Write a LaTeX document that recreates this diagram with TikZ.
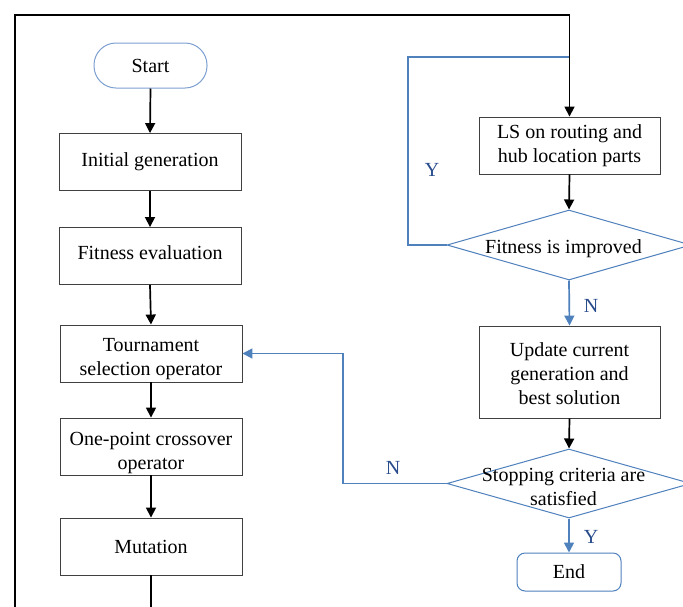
\documentclass[tikz,border=0pt]{standalone}
\usepackage{fontspec}
\setmainfont{Liberation Serif}
\usetikzlibrary{arrows.meta,shapes.geometric}
\definecolor{lineblue}{RGB}{79,129,189}
\definecolor{labelblue}{RGB}{40,75,140}
\definecolor{startblue}{RGB}{125,160,208}
\newcommand{\lowtext}[2][5pt]{\raisebox{-#1}[\height][\depth]{\begin{tabular}{@{}c@{}}#2\end{tabular}}}
\begin{document}
\begin{tikzpicture}[x=1pt,y=-1pt,
  font=\fontsize{20}{24}\selectfont,
  procbox/.style={draw=black!75, line width=0.9pt, minimum width=182pt, minimum height=57pt, align=center, inner sep=2pt},
  termbox/.style={draw=startblue, line width=1pt, align=center},
  decision/.style={diamond, draw=lineblue, line width=1pt, minimum width=244pt, minimum height=70pt, inner sep=0pt},
  flow/.style={line width=1.7pt, -{Triangle[length=10pt,width=10pt]}},
  bflow/.style={line width=1.7pt, draw=lineblue, -{Triangle[length=10pt,width=10pt]}},
  bline/.style={line width=1.7pt, draw=lineblue},
  yn/.style={text=labelblue, inner sep=0pt}]
\useasboundingbox (0,0) rectangle (683,606);
\clip (0,0) rectangle (683,606);
\fill[white] (0,0) rectangle (683,606);

% left column
\node[termbox, minimum width=113pt, minimum height=45pt, rounded corners=22pt] (start) at (150.5,65.5) {Start};
\node[procbox] (init) at (150,162) {Initial generation};
\node[procbox] (fit) at (150,256) {\lowtext[-1pt]{Fitness evaluation}};
\node[procbox] (tour) at (151,353.5) {\lowtext{Tournament\\selection operator}};
\node[procbox] (cross) at (151,446.5) {\lowtext[6pt]{One-point crossover\\operator}};
\node[procbox] (mut) at (151,546.5) {\lowtext[2pt]{Mutation}};

% right column
\node[procbox, minimum width=181pt] (ls) at (569.5,145.5) {\lowtext[0pt]{LS on routing and\\hub location parts}};
\node[decision] (d1) at (569,245) {\makebox[0pt]{\kern-11pt\lowtext[4pt]{Fitness is improved}}};
\node[procbox, minimum width=181pt, minimum height=92pt] (upd) at (569.5,372) {\lowtext[4pt]{Update current\\generation and\\best solution}};
\node[decision, minimum height=69pt] (d2) at (569,483.5) {\makebox[0pt]{\kern-11pt\lowtext[5pt]{Stopping criteria are\\satisfied}}};
\node[termbox, draw=lineblue, minimum width=104pt, minimum height=38pt, rounded corners=8pt] (end) at (569,572) {End};

\coordinate (yjoin) at (569,57);

% blue loops
\draw[bline] (d1.west) -- (408,245) -- (408,57) -- (yjoin);
\node[yn] (ylab1) at (432,170) {Y};
\draw[bflow] (d2.west) -- (343,483.5) -- (343,353.5) -- (tour.east);
\node[yn] (nlab2) at (393,468) {N};
\draw[bflow] (d1.south) -- (upd.north);
\node[yn] (nlab1) at (591,306) {N};
\draw[bflow] (d2.south) -- (end.north);
\node[yn] (ylab2) at (591,537) {Y};

% black flows
\draw[flow] (start.south) -- (init.north);
\draw[flow] (init.south) -- (fit.north);
\draw[flow] (fit.south) -- (tour.north);
\draw[flow] (tour.south) -- (cross.north);
\draw[flow] (cross.south) -- (mut.north);
\draw[flow] (mut.south) -- (151,625) -- (15,625) -- (15,15) -- (569.5,15) -- (ls.north);
\draw[flow] (ls.south) -- (d1.north);
\draw[flow] (upd.south) -- (d2.north);
\end{tikzpicture}
\end{document}
